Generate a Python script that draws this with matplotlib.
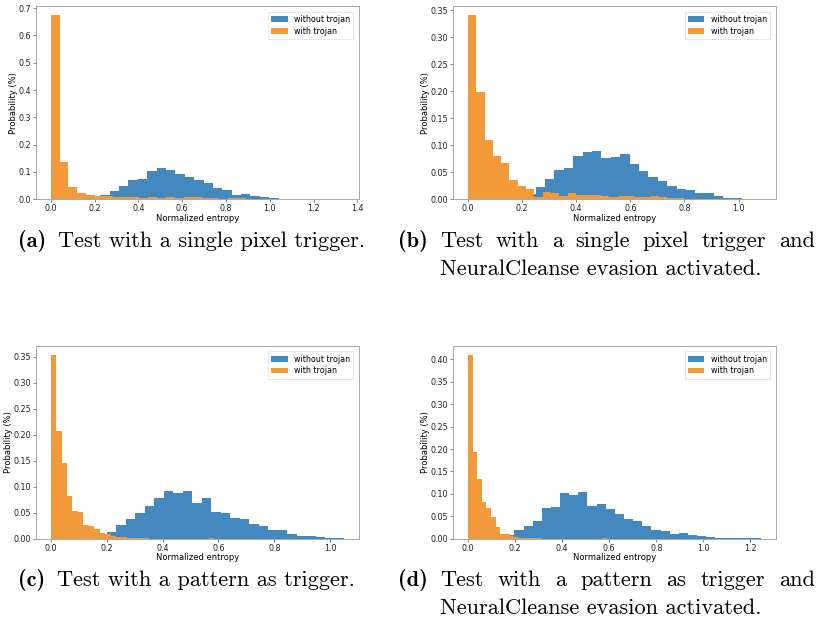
import numpy as np
import matplotlib
matplotlib.use("Agg")
import matplotlib.pyplot as plt

# ---------------------------------------------------------------------------
# Histogram data: normalized-entropy distributions (probability per bin)
# ---------------------------------------------------------------------------
series_labels = ["without trojan", "with trojan"]

# (a) single pixel trigger
a_clean_range = (0.055, 1.34)
a_clean = [0.0, 0.0, 0.001, 0.002, 0.017, 0.029, 0.049, 0.069, 0.074, 0.104,
           0.113, 0.108, 0.092, 0.082, 0.071, 0.058, 0.040, 0.033, 0.017, 0.020,
           0.011, 0.009, 0.004, 0.002, 0.001, 0.001, 0.0, 0.0, 0.0, 0.002]
a_trojan_range = (0.0, 1.215)
a_trojan = [0.674, 0.135, 0.044, 0.022, 0.016, 0.012, 0.012, 0.009, 0.008, 0.007,
            0.006, 0.008, 0.006, 0.007, 0.006, 0.007, 0.007, 0.006, 0.005, 0.002,
            0.004, 0.004, 0.002, 0.001, 0.001, 0.0, 0.0, 0.0, 0.0, 0.0]

# (b) single pixel trigger + NeuralCleanse evasion
b_clean_range = (0.042, 1.083)
b_clean = [0.002, 0.004, 0.006, 0.008, 0.009, 0.010, 0.022, 0.037, 0.055, 0.058,
           0.081, 0.087, 0.090, 0.076, 0.079, 0.084, 0.066, 0.053, 0.042, 0.034,
           0.025, 0.020, 0.017, 0.011, 0.011, 0.006, 0.003, 0.002, 0.001, 0.001]
b_trojan_range = (0.0, 0.921)
b_trojan = [0.341, 0.199, 0.109, 0.081, 0.068, 0.035, 0.024, 0.020, 0.005, 0.014,
            0.012, 0.006, 0.012, 0.008, 0.008, 0.008, 0.006, 0.004, 0.006, 0.006,
            0.004, 0.005, 0.007, 0.004, 0.002, 0.002, 0.001, 0.001, 0.0, 0.001]

# (c) pattern trigger
c_clean_range = (0.03, 1.05)
c_clean = [0.001, 0.002, 0.004, 0.006, 0.010, 0.013, 0.026, 0.038, 0.049, 0.063,
           0.078, 0.091, 0.088, 0.091, 0.069, 0.079, 0.051, 0.050, 0.039, 0.038,
           0.028, 0.024, 0.017, 0.017, 0.010, 0.006, 0.006, 0.003, 0.001, 0.002]
c_trojan_range = (0.0, 0.585)
c_trojan = [0.354, 0.207, 0.145, 0.083, 0.053, 0.052, 0.026, 0.024, 0.019, 0.011,
            0.009, 0.006, 0.004, 0.003, 0.002, 0.002, 0.001, 0.001, 0.0, 0.0,
            0.0, 0.0, 0.0, 0.0, 0.0, 0.0, 0.0, 0.0, 0.0, 0.001]

# (d) pattern trigger + NeuralCleanse evasion
d_clean_range = (0.081, 1.245)
d_clean = [0.001, 0.002, 0.008, 0.019, 0.028, 0.039, 0.068, 0.070, 0.101, 0.097,
           0.105, 0.074, 0.078, 0.067, 0.054, 0.045, 0.039, 0.029, 0.019, 0.017,
           0.010, 0.012, 0.009, 0.007, 0.003, 0.002, 0.001, 0.001, 0.0005, 0.001]
d_trojan_range = (0.0, 0.59)
d_trojan = [0.410, 0.194, 0.133, 0.082, 0.069, 0.048, 0.027, 0.010, 0.010, 0.006,
            0.003, 0.002, 0.002, 0.002, 0.001, 0.001, 0.0, 0.0, 0.0, 0.0,
            0.0, 0.0, 0.0, 0.0, 0.0, 0.0, 0.0, 0.0, 0.0, 0.001]

captions = [
    ("(a)", "Test with a single pixel trigger.", None),
    ("(b)", "Test with a single pixel trigger and", "NeuralCleanse evasion activated."),
    ("(c)", "Test with a pattern as trigger.", None),
    ("(d)", "Test with a pattern as trigger and", "NeuralCleanse evasion activated."),
]

# ---------------------------------------------------------------------------
W, H = 817, 623
fig = plt.figure(figsize=(W / 100, H / 100), dpi=100)
fig.patch.set_facecolor("white")

BLUE = "#4389bf"
ORANGE = "#f29a3a"

# axes boxes in pixel units: left, top, right, bottom
boxes = [
    (36.0, 6.0, 359.0, 199.3),
    (453.3, 6.0, 775.7, 199.3),
    (36.0, 345.7, 359.0, 538.7),
    (453.3, 345.7, 775.7, 538.7),
]

panels = [
    (a_clean_range, a_clean, a_trojan_range, a_trojan),
    (b_clean_range, b_clean, b_trojan_range, b_trojan),
    (c_clean_range, c_clean, c_trojan_range, c_trojan),
    (d_clean_range, d_clean, d_trojan_range, d_trojan),
]


def draw_hist(ax, rng, probs, color, label):
    edges = np.linspace(rng[0], rng[1], len(probs) + 1)
    centers = 0.5 * (edges[:-1] + edges[1:])
    ax.hist(centers, bins=edges, weights=probs, color=color, label=label)


for (l, t, r, b), (cr, cv, tr, tv) in zip(boxes, panels):
    ax = fig.add_axes([l / W, 1 - b / H, (r - l) / W, (b - t) / H])
    draw_hist(ax, cr, cv, BLUE, series_labels[0])
    draw_hist(ax, tr, tv, ORANGE, series_labels[1])
    ax.set_xlabel("Normalized entropy", fontsize=6, labelpad=0.4)
    ax.set_ylabel("Probability (%)", fontsize=6, labelpad=0.4)
    ax.tick_params(labelsize=5.8, length=2.2, width=0.5, pad=1.5,
                   color="#555555", labelcolor="#222222")
    for s in ax.spines.values():
        s.set_color("#a8a8a8")
        s.set_linewidth(0.7)
    leg = ax.legend(loc="upper right", fontsize=5.8, fancybox=False,
                    framealpha=1.0, borderaxespad=0.7, labelspacing=0.35)
    leg.get_frame().set_edgecolor("#dddddd")
    leg.get_frame().set_linewidth(0.5)

# ---------------------------------------------------------------------------
# Sub-captions in a Computer Modern face
# ---------------------------------------------------------------------------
CAP_FS = 16.1
renderer = fig.canvas.get_renderer()


def px_width(txt):
    return txt.get_window_extent(renderer=renderer).width


def put(x, y, s, family):
    return fig.text(x / W, 1 - y / H, s, fontfamily=family, fontsize=CAP_FS,
                    va="baseline", ha="left", color="black")


def caption(x0, x_right, y, y2, tag, line1, line2):
    lab = put(x0, y, tag, "cmb10")
    x_text = x0 + px_width(lab) + 12
    if line2 is None:
        put(x_text, y, line1, "cmr10")
        return
    words = line1.split()
    objs = [put(0, y, w, "cmr10") for w in words]
    widths = [px_width(o) for o in objs]
    gap = (x_right - x_text - sum(widths)) / (len(words) - 1)
    x = x_text
    for o, w in zip(objs, widths):
        o.set_x(x / W)
        x += w + gap
    put(x_text, y2, line2, "cmr10")


caption(18, 815, 247, 275, *captions[0])
caption(398, 815, 247, 275, *captions[1])
caption(18, 815, 586, 614, *captions[2])
caption(398, 815, 586, 614, *captions[3])

fig.savefig("out.png", dpi=100, facecolor="white")
